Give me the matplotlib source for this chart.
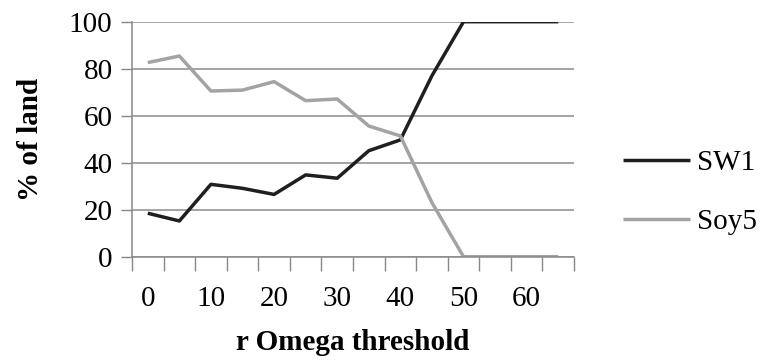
import matplotlib
matplotlib.use("Agg")
import matplotlib.pyplot as plt
import numpy as np

thresholds = [0, 5, 10, 15, 20, 25, 30, 35, 40, 45, 50, 55, 60, 65]
sw1 = [18.5, 15.2, 30.8, 29.1, 26.5, 34.8, 33.4, 45.1, 49.7, 77, 100, 100, 100, 100]
soy5 = [82.6, 85.4, 70.5, 70.9, 74.5, 66.4, 67.1, 55.6, 51.4, 23, 0, 0, 0, 0]
series_names = ["SW1", "Soy5"]
yticks = [0, 20, 40, 60, 80, 100]

plt.rcParams['font.family'] = ['Liberation Serif', 'DejaVu Serif']
FS = 21

fig = plt.figure(figsize=(7.65, 3.6), dpi=100)
ax = fig.add_axes([132/765, 1-256.7/360, (574-132)/765, (256.7-21.7)/360])

idx = np.arange(len(thresholds))
ax.plot(idx, sw1, color='#1f1f1f', lw=2.5, label=series_names[0], solid_capstyle='butt')
ax.plot(idx, soy5, color='#a3a3a3', lw=2.5, label=series_names[1], solid_capstyle='butt')

ax.set_xlim(-0.5, len(thresholds) - 0.5)
ax.set_ylim(0, 100)

# category boundaries as tick marks
ax.set_xticks(np.arange(-0.5, len(thresholds), 1.0))
ax.set_xticklabels([])
ax.tick_params(axis='x', which='major', length=10, color='#888888', width=1)
lab_idx = [i for i, t in enumerate(thresholds) if t % 10 == 0]
ax.set_xticks(lab_idx, minor=True)
ax.set_xticklabels([str(thresholds[i]) for i in lab_idx], minor=True, fontsize=FS)
ax.tick_params(axis='x', which='minor', length=0, pad=21)

ax.set_yticks(yticks)
ax.set_yticklabels([str(v) for v in yticks], fontsize=FS)
ax.tick_params(axis='y', length=8, color='#888888', width=1, pad=6)

ax.yaxis.grid(True, color='#8c8c8c', lw=1.1)
ax.set_axisbelow(True)
for s in ['top', 'right']:
    ax.spines[s].set_visible(False)
for s in ['left', 'bottom']:
    ax.spines[s].set_color('#888888')
    ax.spines[s].set_linewidth(1.1)
ax.spines['left'].set_bounds(0, 100)

ax.set_ylabel('% of land', fontsize=FS, fontweight='bold', labelpad=18)
ax.set_xlabel('r Omega threshold', fontsize=FS, fontweight='bold', labelpad=12)

leg = fig.legend(loc='center left', bbox_to_anchor=(623/765, 1-192.5/360), frameon=False,
                 fontsize=FS, handlelength=2.3, handletextpad=0.25, labelspacing=1.1,
                 borderpad=0, borderaxespad=0)

fig.savefig('out.png', dpi=100)
